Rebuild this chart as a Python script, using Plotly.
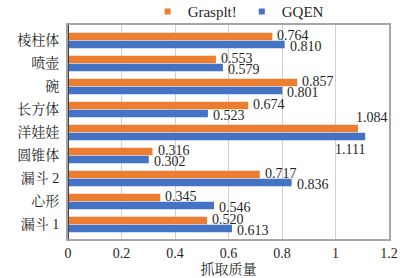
import plotly.graph_objects as go

categories = ["棱柱体", "喷壶", "碗", "长方体", "洋娃娃", "圆锥体", "漏斗 2", "心形", "漏斗 1"]
grasplt = [0.764, 0.553, 0.857, 0.674, 1.084, 0.316, 0.717, 0.345, 0.520]
gqen = [0.810, 0.579, 0.801, 0.523, 1.111, 0.302, 0.836, 0.546, 0.613]
x_ticks = [0, 0.2, 0.4, 0.6, 0.8, 1, 1.2]
x_title = "抓取质量"

FONT = "Liberation Serif, Times New Roman, Noto Serif CJK SC, Noto Sans CJK SC, serif"
TXT = "#1f1f1f"
ORANGE = "#ED7D31"
BLUE = "#4472C4"
special = "洋娃娃"

fig = go.Figure()
fig.add_trace(go.Bar(
    y=categories, x=grasplt, orientation="h", name="Grasplt!", showlegend=False,
    marker=dict(color=ORANGE, line=dict(width=0)),
))
fig.add_trace(go.Bar(
    y=categories, x=gqen, orientation="h", name="GQEN", showlegend=False,
    marker=dict(color=BLUE, line=dict(width=0)),
))
# legend-only entries with small square keys
for name, col in [("Grasplt!", ORANGE), ("GQEN", BLUE)]:
    fig.add_trace(go.Scatter(x=[None], y=[None], mode="markers", name=name,
                             marker=dict(symbol="square", size=6, color=col),
                             hoverinfo="skip"))

lab_font = dict(family=FONT, size=14, color=TXT)
for c, v in zip(categories, grasplt):
    if c == special:
        fig.add_annotation(x=v, y=c, text=f"{v:.3f}", showarrow=False, xanchor="left",
                           xshift=-4, yshift=15, font=lab_font)
    else:
        fig.add_annotation(x=v, y=c, text=f"{v:.3f}", showarrow=False, xanchor="left",
                           xshift=3, yshift=5, font=lab_font)
for c, v in zip(categories, gqen):
    if c == special:
        fig.add_annotation(x=v, y=c, text=f"{v:.3f}", showarrow=False, xanchor="right",
                           xshift=2, yshift=-17, font=lab_font)
    else:
        fig.add_annotation(x=v, y=c, text=f"{v:.3f}", showarrow=False, xanchor="left",
                           xshift=3, yshift=-6, font=lab_font)

fig.update_layout(
    width=413, height=278,
    margin=dict(l=68, r=24, t=25, b=39, autoexpand=False),
    paper_bgcolor="white", plot_bgcolor="white",
    barmode="group", bargap=0.3, bargroupgap=0.05,
    font=dict(family=FONT, size=14, color=TXT),
    showlegend=True,
    legend=dict(orientation="h", x=0.53, xanchor="center", y=0.985, yanchor="bottom",
                yref="paper", font=dict(family=FONT, size=15, color=TXT),
                itemwidth=30, tracegroupgap=0, bgcolor="rgba(0,0,0,0)"),
    xaxis=dict(range=[0, 1.2], tickvals=x_ticks, ticktext=[f"{t:g}" for t in x_ticks],
               automargin=False,
               showgrid=True, gridcolor="#D0D0D0", gridwidth=1,
               zeroline=False, showline=True, linecolor="#A6A6A6", linewidth=2,
               mirror=True, ticks="", tickfont=dict(family=FONT, size=14, color=TXT),
               title=dict(text=x_title, font=dict(family=FONT, size=14, color=TXT), standoff=4)),
    yaxis=dict(autorange="reversed", showgrid=False, zeroline=False, automargin=False,
               showline=True, linecolor="#A6A6A6", linewidth=2, mirror=True,
               ticks="", ticklabelstandoff=4,
               tickfont=dict(family=FONT, size=14, color=TXT)),
)
fig.add_shape(type="line", xref="x", yref="paper", x0=0, x1=0, y0=0, y1=1,
              line=dict(color="#404040", width=2))

fig.write_html("out.html", config={"displayModeBar": False},
               post_script="document.body.style.margin='0';document.body.style.overflow='hidden';")
